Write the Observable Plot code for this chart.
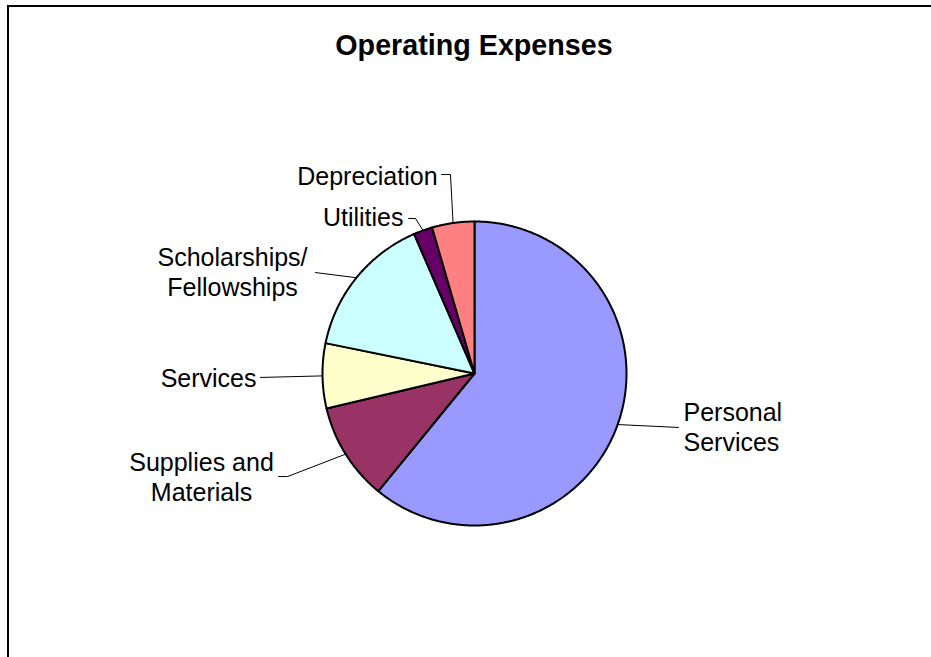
<!DOCTYPE html>
<html>
<head>
<meta charset="utf-8">
<script src="https://cdn.jsdelivr.net/npm/d3@7"></script>
<script src="https://cdn.jsdelivr.net/npm/@observablehq/plot@0.6"></script>
<style>
  html, body { margin: 0; padding: 0; background: #fff; overflow: hidden; }
  body { width: 931px; height: 657px; position: relative; font-family: "Liberation Sans", Arial, sans-serif; }
  #frame { position: absolute; left: 7px; top: 5px; width: 960px; height: 700px; border: 2px solid #000; box-sizing: border-box; }
  #title { position: absolute; left: 274px; width: 400px; top: 31px; text-align: center; font-size: 28.7px; line-height: 28px; font-weight: bold; color: #000; }
  #chart { position: absolute; left: 0; top: 0; }
</style>
</head>
<body>
<div id="frame"></div>
<div id="chart"></div>
<div id="title">Operating Expenses</div>
<script>
// ---- data ----
const categories = ["Personal Services", "Supplies and Materials", "Services", "Scholarships/Fellowships", "Utilities", "Depreciation"];
const values = [60.9, 10.4, 6.9, 15.3, 2.0, 4.5];
const colors = ["#9999FF", "#993366", "#FFFFCC", "#CCFFFF", "#660066", "#FF8080"];
const labelTexts = ["Personal\nServices", "Supplies and\nMaterials", "Services", "Scholarships/\nFellowships", "Utilities", "Depreciation"];

// ---- layout (radius units, centre of pie = 0,0, y downward) ----
const W = 931, H = 657, CX = 474, CY = 373, R = 152;
const labelPos = [
  {x: 1.375, y: 0.349, anchor: "start"},
  {x: -1.796, y: 0.678, anchor: "middle"},
  {x: -1.434, y: 0.026, anchor: "end"},
  {x: -1.592, y: -0.671, anchor: "middle"},
  {x: -0.467, y: -1.033, anchor: "end"},
  {x: -0.243, y: -1.303, anchor: "end"}
];
const leaderBends = [
  [[1.342, 0.355]],
  [[-1.230, 0.678], [-1.289, 0.678]],
  [[-1.408, 0.026]],
  [[-1.046, -0.664]],
  [[-0.388, -1.020], [-0.434, -1.020]],
  [[-0.158, -1.309], [-0.217, -1.309]]
];

// ---- build slices ----
const total = d3.sum(values);
const slices = [];
const leaders = [];
const labels = [];
let acc = 0;
categories.forEach((cat, i) => {
  const a0 = acc / total * 2 * Math.PI;
  acc += values[i];
  const a1 = acc / total * 2 * Math.PI;
  const n = Math.max(2, Math.ceil((a1 - a0) / (Math.PI / 360)));
  slices.push({cat, x: 0, y: 0});
  for (let k = 0; k <= n; ++k) {
    const a = a0 + (a1 - a0) * k / n;
    slices.push({cat, x: Math.sin(a), y: -Math.cos(a)});
  }
  slices.push({cat, x: 0, y: 0});
  const am = (a0 + a1) / 2;
  leaders.push({cat, x: Math.sin(am), y: -Math.cos(am)});
  leaderBends[i].forEach(([x, y]) => leaders.push({cat, x, y}));
  labels.push({cat, text: labelTexts[i], ...labelPos[i]});
});

const textOpts = {x: "x", y: "y", text: "text", fontSize: 25, lineHeight: 1.2, lineAnchor: "middle", fill: "#000", fontFamily: "Liberation Sans, Arial, sans-serif"};

const chart = Plot.plot({
  width: W,
  height: H,
  margin: 0,
  style: {background: "transparent", overflow: "visible"},
  x: {domain: [-CX / R, (W - CX) / R], range: [0, W], axis: null},
  y: {domain: [-CY / R, (H - CY) / R], range: [0, H], axis: null},
  color: {domain: categories, range: colors},
  marks: [
    Plot.line(slices, {x: "x", y: "y", z: "cat", fill: "cat", stroke: "#000", strokeWidth: 2, strokeLinejoin: "round", curve: "linear"}),
    Plot.line(leaders, {x: "x", y: "y", z: "cat", stroke: "#000", strokeWidth: 1, curve: "linear"}),
    Plot.text(labels.filter(d => d.anchor === "start"), {...textOpts, textAnchor: "start"}),
    Plot.text(labels.filter(d => d.anchor === "middle"), {...textOpts, textAnchor: "middle"}),
    Plot.text(labels.filter(d => d.anchor === "end"), {...textOpts, textAnchor: "end"})
  ]
});
document.getElementById("chart").appendChild(chart);
</script>
</body>
</html>
